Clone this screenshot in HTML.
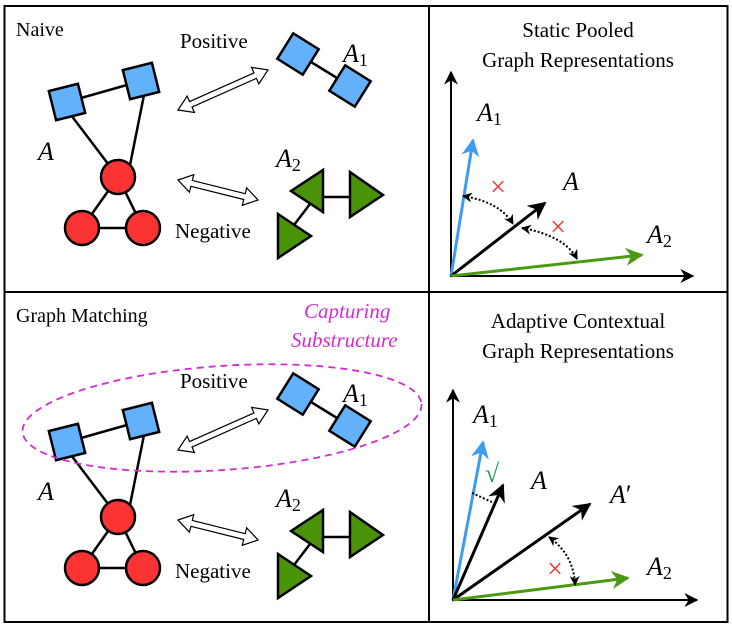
<!DOCTYPE html>
<html><head><meta charset="utf-8"><style>body{margin:0;background:#fff}svg{display:block}svg text{font-family:"Liberation Serif","Times New Roman",Times,"Nimbus Roman","DejaVu Serif",serif}</style></head><body>
<svg width="732" height="626" viewBox="0 0 732 626" xmlns="http://www.w3.org/2000/svg">
<defs>
<marker id="ah" viewBox="0 0 10 10" refX="9" refY="5" markerWidth="14" markerHeight="14" orient="auto-start-reverse" markerUnits="userSpaceOnUse"><path d="M0,0 L10,5 L0,10 L3,5z" fill="#000"/></marker>
<marker id="as" viewBox="0 0 10 10" refX="9" refY="5" markerWidth="10" markerHeight="10" orient="auto-start-reverse" markerUnits="userSpaceOnUse"><path d="M0,0 L10,5 L0,10 L3,5z" fill="#000"/></marker>
<marker id="hk" viewBox="0 0 10 10" refX="9" refY="5" markerWidth="18" markerHeight="18" orient="auto" markerUnits="userSpaceOnUse"><path d="M0,0 L10,5 L0,10 L3,5z" fill="#000"/></marker>
<marker id="hb" viewBox="0 0 10 10" refX="9" refY="5" markerWidth="18" markerHeight="18" orient="auto" markerUnits="userSpaceOnUse"><path d="M0,0 L10,5 L0,10 L3,5z" fill="#3d9bf0"/></marker>
<marker id="hg" viewBox="0 0 10 10" refX="9" refY="5" markerWidth="18" markerHeight="18" orient="auto" markerUnits="userSpaceOnUse"><path d="M0,0 L10,5 L0,10 L3,5z" fill="#4a9a12"/></marker>
<g id="graph">
<line x1="67" y1="102" x2="141" y2="81" stroke="#000" stroke-width="2.5"/>
<line x1="71" y1="115" x2="118" y2="177" stroke="#000" stroke-width="2.5"/>
<line x1="144" y1="95" x2="130" y2="165" stroke="#000" stroke-width="2.5"/>
<line x1="118" y1="177" x2="82" y2="228" stroke="#000" stroke-width="2.5"/>
<line x1="118" y1="177" x2="143" y2="228" stroke="#000" stroke-width="2.5"/>
<line x1="82" y1="228" x2="143" y2="228" stroke="#000" stroke-width="2.5"/>
<rect x="-15" y="-15" width="30" height="30" fill="#64b1fb" stroke="#000" stroke-width="2.5" transform="translate(67,102) rotate(-14)"/>
<rect x="-15" y="-15" width="30" height="30" fill="#64b1fb" stroke="#000" stroke-width="2.5" transform="translate(141,81) rotate(-14)"/>
<circle cx="118" cy="177" r="17" fill="#fb3333" stroke="#000" stroke-width="2.5"/>
<circle cx="82" cy="228" r="17" fill="#fb3333" stroke="#000" stroke-width="2.5"/>
<circle cx="143" cy="228" r="17" fill="#fb3333" stroke="#000" stroke-width="2.5"/>
<line x1="298" y1="54" x2="350" y2="86" stroke="#000" stroke-width="2.5"/>
<rect x="-15" y="-15" width="30" height="30" fill="#64b1fb" stroke="#000" stroke-width="2.5" transform="translate(298,54) rotate(32)"/>
<rect x="-15" y="-15" width="30" height="30" fill="#64b1fb" stroke="#000" stroke-width="2.5" transform="translate(350,86) rotate(32)"/>
<line x1="323" y1="197" x2="350" y2="197" stroke="#000" stroke-width="2.5"/>
<line x1="294" y1="225" x2="310" y2="204" stroke="#000" stroke-width="2.5"/>
<polygon points="291,191 323,170 323,212" fill="#4a9308" stroke="#000" stroke-width="2.5"/>
<polygon points="350,172 383,195 350,217" fill="#4a9308" stroke="#000" stroke-width="2.5"/>
<polygon points="278,214 311,236 278,258" fill="#4a9308" stroke="#000" stroke-width="2.5"/>
<polygon points="0,0 14,-9 14,-3 84.5,-3 84.5,-9 98.5,0 84.5,9 84.5,3 14,3 14,9" fill="#fff" stroke="#000" stroke-width="1.2" transform="translate(178,110) rotate(-24)"/>
<polygon points="0,0 14,-9 14,-3 68.5,-3 68.5,-9 82.5,0 68.5,9 68.5,3 14,3 14,9" fill="#fff" stroke="#000" stroke-width="1.2" transform="translate(178,180) rotate(14)"/>
<text x="180" y="48" font-size="21">Positive</text>
<text x="175" y="238" font-size="21">Negative</text>
<text x="38" y="160" font-size="26" font-style="italic">A</text>
<text x="343" y="62" font-size="26" font-style="italic">A<tspan font-size="18" font-style="normal" dy="4">1</tspan></text>
<text x="276" y="167" font-size="26" font-style="italic">A<tspan font-size="18" font-style="normal" dy="4">2</tspan></text>
</g>
</defs>
<rect x="4.5" y="6" width="723" height="616" fill="#fff" stroke="#000" stroke-width="2"/>
<line x1="429" y1="6" x2="429" y2="622" stroke="#000" stroke-width="2"/>
<line x1="4.5" y1="292" x2="727.5" y2="292" stroke="#000" stroke-width="2"/>
<use href="#graph"/>
<text x="16" y="36" font-size="20">Naive</text>
<use href="#graph" transform="translate(0,340)"/>
<text x="16" y="322" font-size="20">Graph Matching</text>
<ellipse cx="222" cy="418" rx="200" ry="52" fill="none" stroke="#d52bd0" stroke-width="1.8" stroke-dasharray="7,5" transform="rotate(-4 222 418)"/>
<text x="304" y="318" font-size="21" font-style="italic" fill="#d52bd0">Capturing</text>
<text x="291" y="347" font-size="21" font-style="italic" fill="#d52bd0">Substructure</text>

<text x="578" y="37" font-size="21" text-anchor="middle">Static Pooled</text>
<text x="578" y="67" font-size="21" text-anchor="middle">Graph Representations</text>
<line x1="451" y1="277" x2="451" y2="72" stroke="#000" stroke-width="2" marker-end="url(#ah)"/>
<line x1="450" y1="276" x2="693" y2="276" stroke="#000" stroke-width="2" marker-end="url(#ah)"/>
<line x1="451" y1="276" x2="473" y2="140" stroke="#3d9bf0" stroke-width="3" marker-end="url(#hb)"/>
<line x1="451" y1="276" x2="545" y2="203" stroke="#000" stroke-width="3" marker-end="url(#hk)"/>
<line x1="451" y1="276" x2="642" y2="255" stroke="#4a9a12" stroke-width="3" marker-end="url(#hg)"/>
<path d="M463,196 Q500,202 513,224" fill="none" stroke="#000" stroke-width="2" stroke-dasharray="2,2" marker-start="url(#as)" marker-end="url(#as)"/>
<path d="M522,228 Q565,236 577,259" fill="none" stroke="#000" stroke-width="2" stroke-dasharray="2,2" marker-start="url(#as)" marker-end="url(#as)"/>
<text x="498" y="196" font-size="28" fill="#f03030" text-anchor="middle">×</text>
<text x="558" y="236" font-size="28" fill="#f03030" text-anchor="middle">×</text>
<text x="477" y="121" font-size="26" font-style="italic">A<tspan font-size="18" font-style="normal" dy="4">1</tspan></text>
<text x="563" y="190" font-size="26" font-style="italic">A</text>
<text x="647" y="243" font-size="26" font-style="italic">A<tspan font-size="18" font-style="normal" dy="4">2</tspan></text>

<text x="578" y="328" font-size="21" text-anchor="middle">Adaptive Contextual</text>
<text x="578" y="358" font-size="21" text-anchor="middle">Graph Representations</text>
<line x1="453" y1="601" x2="453" y2="390" stroke="#000" stroke-width="2" marker-end="url(#ah)"/>
<line x1="452" y1="600" x2="697" y2="600" stroke="#000" stroke-width="2" marker-end="url(#ah)"/>
<line x1="453" y1="600" x2="483" y2="442" stroke="#3d9bf0" stroke-width="3" marker-end="url(#hb)"/>
<line x1="453" y1="600" x2="503" y2="485" stroke="#000" stroke-width="3" marker-end="url(#hk)"/>
<line x1="453" y1="600" x2="590" y2="504" stroke="#000" stroke-width="3" marker-end="url(#hk)"/>
<line x1="453" y1="600" x2="628" y2="578" stroke="#4a9a12" stroke-width="3" marker-end="url(#hg)"/>
<line x1="472" y1="493" x2="494" y2="503" stroke="#000" stroke-width="2" stroke-dasharray="2,2"/>
<path d="M549,537 Q574,555 575,585" fill="none" stroke="#000" stroke-width="2" stroke-dasharray="2,2" marker-start="url(#as)" marker-end="url(#as)"/>
<text x="492" y="482" font-size="26" fill="#1a9a50" text-anchor="middle">√</text>
<text x="555" y="578" font-size="28" fill="#f03030" text-anchor="middle">×</text>
<text x="473" y="423" font-size="26" font-style="italic">A<tspan font-size="18" font-style="normal" dy="4">1</tspan></text>
<text x="531" y="489" font-size="26" font-style="italic">A</text>
<text x="610" y="503" font-size="26" font-style="italic">A<tspan font-style="normal">′</tspan></text>
<text x="647" y="575" font-size="26" font-style="italic">A<tspan font-size="18" font-style="normal" dy="4">2</tspan></text>
</svg>
</body></html>
